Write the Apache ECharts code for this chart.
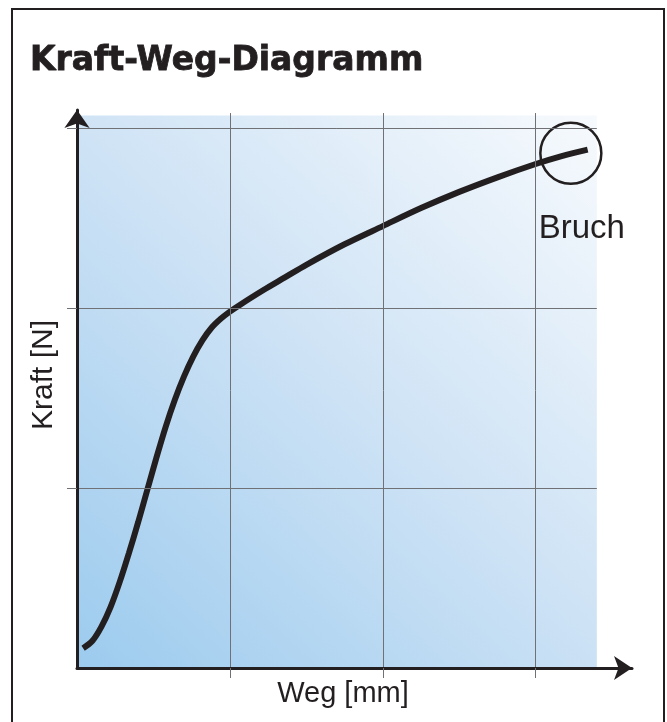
<!DOCTYPE html>
<html>
<head>
<meta charset="utf-8">
<script src="https://cdn.jsdelivr.net/npm/echarts@6/dist/echarts.min.js"></script>
<style>
html,body{margin:0;padding:0;background:#fff;}
#chart{width:667px;height:722px;}
</style>
</head>
<body>
<div id="chart"></div>
<script>
// Curve: Weg (x) vs Kraft (y), in axis units (one grid cell = 1)
const wegValues   = [0.04, 0.10, 0.16, 0.22, 0.28, 0.34, 0.40, 0.46, 0.52, 0.58, 0.64, 0.70, 0.76, 0.82, 0.88, 0.94, 1.00, 1.07, 1.22, 1.36, 1.50, 1.75, 2.00, 2.25, 2.50, 2.75, 3.00, 3.17, 3.34];
const kraftValues = [0.11, 0.15, 0.23, 0.34, 0.48, 0.64, 0.81, 0.99, 1.17, 1.34, 1.49, 1.62, 1.73, 1.82, 1.89, 1.94, 1.98, 2.02, 2.10, 2.17, 2.24, 2.354, 2.455, 2.555, 2.645, 2.726, 2.80, 2.844, 2.88];
const gridXTicks = [1, 2, 3];
const gridYTicks = [1, 2, 3];
const plotAreaEnd = [3.4, 3.07];     // extent of shaded area
const bruchPoint = [3.23, 2.86];
const bruchLabel = 'Bruch';
const titleText = 'Kraft-Weg-Diagramm';
const xName = 'Weg [mm]';
const yName = 'Kraft [N]';

const ink = '#231f20';
const gridColor = '#707174';

const curveData = wegValues.map((x, i) => [x, kraftValues[i]]);

const gridLines = [];
gridXTicks.forEach(v => gridLines.push([{coord: [v, 0]}, {coord: [v, plotAreaEnd[1] + 0.013]}]));
gridYTicks.forEach(v => gridLines.push([{coord: [0, v]}, {coord: [plotAreaEnd[0], v]}]));

const chart = echarts.init(document.getElementById('chart'), null, {renderer: 'canvas'});
chart.setOption({
  animation: false,
  backgroundColor: '#ffffff',
  title: {
    text: titleText,
    left: 30, top: 45, padding: 0,
    textStyle: {
      fontFamily: 'DejaVu Sans', fontWeight: 'bold', fontSize: 33, color: ink,
      textBorderColor: ink, textBorderWidth: 0.8
    }
  },
  graphic: [{
    type: 'rect', silent: true, z: 0,
    shape: {x: 12, y: 9, width: 652, height: 740},
    style: {fill: 'none', stroke: ink, lineWidth: 2}
  }],
  grid: {left: 77, right: 35, top: 110, bottom: 54, containLabel: false},
  xAxis: {
    type: 'value', min: 0, max: 3.63, interval: 1, z: 10,
    name: xName, nameLocation: 'middle', nameGap: 11,
    nameTextStyle: {fontFamily: 'Liberation Sans', fontSize: 29, color: ink, padding: [0, 23, 0, 0]},
    axisLine: {show: true, onZero: false, lineStyle: {color: ink, width: 3},
      symbol: ['none', 'arrow'], symbolSize: [18, 18]},
    axisTick: {show: true, inside: false, length: 10, customValues: gridXTicks,
      lineStyle: {color: gridColor, width: 1}},
    axisLabel: {show: false},
    splitLine: {show: false}
  },
  yAxis: {
    type: 'value', min: 0, max: 3.1, interval: 1, z: 10,
    name: yName, nameLocation: 'middle', nameGap: 18, nameRotate: 90,
    nameTextStyle: {fontFamily: 'Liberation Sans', fontSize: 30, color: ink, padding: [0, 0, 0, 28]},
    axisLine: {show: true, onZero: false, lineStyle: {color: ink, width: 3},
      symbol: ['none', 'arrow'], symbolSize: [19, 18]},
    axisTick: {show: true, inside: false, length: 10, customValues: gridYTicks,
      lineStyle: {color: gridColor, width: 1}},
    axisLabel: {show: false},
    splitLine: {show: false}
  },
  series: [
    {
      type: 'line', data: [], z: 1, silent: true,
      markArea: {
        silent: true,
        itemStyle: {
          color: new echarts.graphic.LinearGradient(0, 1, 1, 0, [
            {offset: 0, color: '#9ccbee'},
            {offset: 0.5, color: '#cde2f5'},
            {offset: 1, color: '#f7fafd'}
          ])
        },
        data: [[{coord: [0, 0]}, {coord: plotAreaEnd}]]
      }
    },
    {
      type: 'line', data: [], z: 2, silent: true,
      markLine: {
        silent: true, symbol: ['none', 'none'], label: {show: false},
        lineStyle: {color: gridColor, width: 1, type: 'solid'},
        data: gridLines
      }
    },
    {
      type: 'line', z: 3, silent: true,
      data: curveData, smooth: 0.3, symbol: 'none',
      lineStyle: {color: ink, width: 6, cap: 'butt'}
    },
    {
      type: 'scatter', z: 4, silent: true,
      data: [bruchPoint], symbol: 'circle', symbolSize: 61,
      itemStyle: {color: 'rgba(0,0,0,0)', borderColor: ink, borderWidth: 2.5, opacity: 1},
      label: {
        show: true, formatter: bruchLabel, position: 'bottom', distance: 27, offset: [11, 0],
        fontFamily: 'Liberation Sans', fontSize: 33, color: ink, opacity: 1
      }
    }
  ]
});
</script>
</body>
</html>
